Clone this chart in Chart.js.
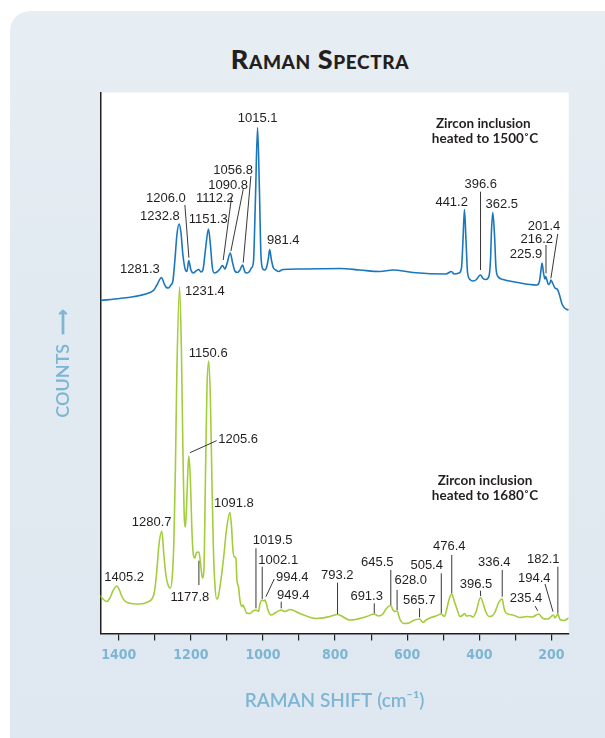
<!DOCTYPE html>
<html>
<head>
<meta charset="utf-8">
<script src="https://cdn.jsdelivr.net/npm/chart.js@4.4.1/dist/chart.umd.min.js"></script>
<style>
  html, body { margin: 0; padding: 0; width: 605px; height: 738px; overflow: hidden; background: #ffffff; }
  #panel {
    position: absolute; left: 10px; top: 11px; width: 640px; height: 760px;
    border-radius: 20px 0 0 0;
    background: linear-gradient(180deg, #e7eef3 0%, #e1eaf1 40%, #dfe8f0 100%);
  }
  #title {
    position: absolute; left: 0; top: 45px; width: 640px; text-align: center;
    font-family: Lato, "Open Sans", sans-serif; font-weight: 900; font-size: 27px; line-height: 27px;
    font-variant: small-caps; color: #231f20; letter-spacing: 0.6px;
  }
  #chart { position: absolute; left: 0; top: 0; }
</style>
</head>
<body>
<div id="panel"></div>
<div id="title">Raman Spectra</div>
<canvas id="chart" width="605" height="738"></canvas>
<script>
// Raman shift (cm-1) and counts, zircon inclusion heated to 1500 °C
const shift1500 = [1451,1397,1341.5,1313.7,1302.6,1294.3,1281.3,1274.9,1267.9,1262.4,1255.4,1249.9,1244.3,1238.8,1232.8,1227.7,1222.1,1215.2,1211.0,1206.0,1199.9,1193.0,1186.1,1177.7,1172.2,1166.6,1159.7,1151.3,1145.8,1140.3,1134.7,1127.8,1119.5,1112.2,1105.6,1100.1,1090.8,1084.8,1077.9,1070.9,1064.0,1056.8,1050.1,1044.6,1037.6,1032.1,1026.5,1021.0,1015.1,1009.9,1005.7,1000.2,994.6,989.1,984.9,981.4,976.6,971.0,964.1,957.2,944.7,897.5,786.5,731.0,675.5,639.4,584.0,492.4,477.1,470.2,456.3,449.4,445.2,441.2,436.9,432.7,425.8,417.5,407.8,400.8,396.6,389.7,381.4,373.1,368.9,366.1,362.5,357.8,353.7,348.1,334.2,300.9,259.3,239.9,232.9,228.8,225.9,221.9,217.7,216.2,208.0,203.8,201.4,195.5,190.0,183.0,177.5,170.5,162.2,152];
const counts1500 = [333,335,338,341,343.5,348.5,356,350.5,346,345.5,348.5,352.5,373.5,398.5,409.5,401.5,378.5,363.5,362,373,363.5,360.5,362.5,364,361.5,363.5,383.5,404.5,388.5,365.5,360.5,361.5,364.5,368,364.5,369.5,380.5,371.5,362.5,361,363.5,368.5,361.5,360.5,362,365.5,371.5,433.5,506,443.5,378.5,364.5,363.5,367.5,375.5,384,373.5,365.5,363.5,362,364,364.5,365,363.5,362,363.5,361,359.5,362,359.5,360.5,365.5,393.5,424,393.5,361.5,354,352.5,354,357.5,358.5,355,354,357.5,373.5,403.5,421,398.5,365.5,357,354,351.5,349,348.5,352.5,363.5,370.5,360.5,354.5,357,349,350.5,353.5,349.5,345.5,344,338.5,329.5,325,323.5];

// Raman shift (cm-1) and counts, zircon inclusion heated to 1680 °C
const shift1680 = [1451,1444.1,1433.0,1424.7,1416.4,1405.2,1398.3,1391.4,1383.1,1372.0,1341.5,1319.3,1308.2,1301.2,1294.3,1288.7,1280.7,1274.9,1269.3,1262.4,1256.8,1251.3,1247.1,1243.0,1238.8,1231.4,1226.3,1222.1,1218.0,1215.2,1212.4,1208.3,1205.6,1201.3,1197.2,1193.0,1188.8,1184.7,1177.8,1173.6,1168.0,1163.9,1159.7,1155.5,1150.6,1145.8,1141.7,1137.5,1133.3,1128.6,1123.6,1116.7,1108.4,1101.4,1091.8,1087.6,1083.4,1079.2,1075.1,1072.3,1068.1,1064.0,1059.8,1055.7,1051.5,1045.9,1036.2,1027.9,1019.5,1012.6,1008.5,1002.1,997.4,994.4,990.4,986.3,976.6,966.9,949.4,939.1,925.3,897.5,851.2,814.3,793.2,758.8,712.4,691.3,679.7,667.2,658.9,645.5,639.4,633.9,628.0,620.0,608.9,595.1,582.6,565.7,556.2,547.9,534.0,520.1,505.4,496.6,489.6,482.7,476.4,470.2,461.9,453.6,445.2,441.1,435.5,425.8,417.5,409.2,396.5,389.7,382.8,373.1,364.8,355.1,348.1,336.4,331.5,325.9,306.5,287.1,267.6,253.8,235.4,223.2,209.4,194.4,190.0,182.1,176.1,165.0,152];
const counts1680 = [38,34.5,32,35.5,42.5,47.5,43.5,37,32.5,30.5,29.5,31.5,34.5,41.5,63.5,88.5,102.5,78.5,58.5,47.5,45.5,58.5,93.5,163.5,263.5,346.5,283.5,183.5,113.5,106.5,123.5,163.5,177.5,153.5,103.5,78.5,75.5,81,81.5,71.5,55.5,63.5,153.5,243.5,272.5,233.5,153.5,83.5,48.5,34.5,37.5,53.5,78.5,103.5,121,108.5,83.5,76.5,75.5,53.5,47,33.5,27,28.5,25.5,20.5,20,22.5,23.5,22,29.5,33.5,32.5,33.5,29.5,23.5,18.5,20.5,23.5,22,24,20,15,17,19,13.5,17,19.5,17.5,19.5,24.5,28,23.5,22,22.5,14,10,10.5,13,14.5,11,13.5,16,17.5,19.5,17,25.5,35.5,39.5,33.5,24.5,17,18.5,20,17.5,18,16.5,21.5,36,30.5,22.5,17,17.5,22.5,29.5,34.5,25.5,20.5,18.5,16,17,16.5,19.5,15,14.5,18.5,15.5,19.5,14,13,15.5];

// Axis ticks (cm-1)
const shiftTicks = [1400,1300,1200,1100,1000,900,800,700,600,500,400,300,200];

// Peak labels
const peakText1500 = ['1015.1','1056.8','1090.8','1112.2','1206.0','1232.8','1151.3','981.4','1281.3','396.6','441.2','362.5','201.4','216.2','225.9'];
const peakText1680 = ['1231.4','1150.6','1205.6','1091.8','1280.7','1405.2','1177.8','1019.5','1002.1','994.4','949.4','793.2','691.3','645.5','628.0','565.7','505.4','476.4','396.5','336.4','235.4','194.4','182.1'];
const spectrumNames = [['Zircon inclusion','heated to 1500˚C'],['Zircon inclusion','heated to 1680˚C']];

// Label placement in (shift, counts) and leader segments [x1, y1, x2, y2]
const labelAt1500 = [[1014.9,515.2],[1082.6,463.5],[1096.5,448.5],[1133.4,435.2],[1269.3,435.2],[1286.0,416.8],[1151.9,414.2],[943.8,393.5],[1341.5,364.2],[396.1,449.5],[476.6,431.2],[337.8,429.5],[220.5,406.8],[240.7,394.5],[270.4,379.2]];
const leader1500 = [null,[1033.5,457.5,1054.8,370.8],[1054.8,444.2,1089.0,382.5],[1087.0,436.8,1110.3,373.5],[1216.6,428.5,1205.5,375.8],null,null,null,null,[396.6,441.8,396.6,363.5],null,null,[182.5,399.5,201.4,355.2],[215,388.5,215,360.2],null];
const labelAt1680 = [[1161.1,341.8],[1151.9,280.2],[1068.7,194.2],[1080.6,130.2],[1309.0,110.8],[1385.0,56.2],[1202.7,36.2],[973.3,92.8],[957.7,72.8],[918.9,56.2],[916.1,38.5],[794.0,58.5],[712.4,36.8],[683.0,71.2],[590.3,52.8],[566.5,33.5],[545.9,68.5],[483.2,86.8],[409.2,49.5],[358.4,71.2],[270.4,35.2],[247.4,55.2],[222.4,74.2]];
const leader1680 = [null,null,[1128.6,192.8,1202.7,180.8],null,null,null,[1177.8,72.8,1177.8,48.5],[1019.5,85.2,1019.5,25.2],[1002.1,66.8,1002.1,34.5],[968.8,54.5,991.8,36.8],[949.4,31.8,949.4,25.2],[793.2,50.8,793.2,19.5],[691.3,30.2,691.3,20.2],[645.5,63.5,645.5,28.5],[628.0,43.5,628.0,23.5],[565.7,25.2,565.7,16.2],[505.4,60.2,505.4,20.2],[476.4,78.5,476.4,40.2],[396.5,42.8,396.5,37.5],[336.4,63.5,336.4,36.8],[245.4,27.5,238.0,22.8],[217.7,49.5,195.5,21.8],[182.1,66.8,182.1,20.2]];
const nameAt = [[[388.9,510.2],[384.2,495.2]],[[384.2,152.8],[384.2,137.5]]];

const toPoints = (xs, ys) => xs.map((x, i) => ({ x: x, y: ys[i] }));

const INK = '#231f20';
const AXIS_BLUE = '#7db5d3';

// White plotting field behind the spectra
const plotField = {
  id: 'plotField',
  beforeDraw(chart) {
    const { ctx, chartArea: a } = chart;
    ctx.save();
    ctx.fillStyle = '#ffffff';
    ctx.fillRect(a.left, a.top - 0.5, a.right - a.left, a.bottom - a.top + 0.5);
    ctx.restore();
  }
};

// Peak labels, leader lines and spectrum captions
const peakNotes = {
  id: 'peakNotes',
  afterDatasetsDraw(chart) {
    const { ctx, scales: { x, y } } = chart;
    const px = v => x.getPixelForValue(v);
    const py = v => y.getPixelForValue(v);
    ctx.save();
    ctx.strokeStyle = INK;
    ctx.lineWidth = 0.9;
    [leader1500, leader1680].forEach(list => list.forEach(s => {
      if (!s) return;
      ctx.beginPath();
      ctx.moveTo(px(s[0]), py(s[1]));
      ctx.lineTo(px(s[2]), py(s[3]));
      ctx.stroke();
    }));
    ctx.fillStyle = INK;
    ctx.font = '13px "Liberation Sans", Arial, sans-serif';
    ctx.textAlign = 'center';
    ctx.textBaseline = 'middle';
    peakText1500.forEach((t, i) => ctx.fillText(t, px(labelAt1500[i][0]), py(labelAt1500[i][1])));
    peakText1680.forEach((t, i) => ctx.fillText(t, px(labelAt1680[i][0]), py(labelAt1680[i][1])));
    ctx.font = 'bold 13.5px Lato, "Open Sans", sans-serif';
    spectrumNames.forEach((lines, k) => lines.forEach((t, j) => {
      ctx.fillText(t, px(nameAt[k][j][0]), py(nameAt[k][j][1]));
    }));
    ctx.restore();
  }
};

new Chart(document.getElementById('chart'), {
  type: 'line',
  data: {
    datasets: [
      {
        label: 'Zircon inclusion heated to 1500°C',
        data: toPoints(shift1500, counts1500),
        borderColor: '#1b77bd',
        borderWidth: 1.6,
        pointRadius: 0,
        cubicInterpolationMode: 'monotone',
        fill: false
      },
      {
        label: 'Zircon inclusion heated to 1680°C',
        data: toPoints(shift1680, counts1680),
        borderColor: '#a4cd3c',
        borderWidth: 1.6,
        pointRadius: 0,
        cubicInterpolationMode: 'monotone',
        fill: false
      }
    ]
  },
  options: {
    responsive: false,
    animation: false,
    devicePixelRatio: 1,
    layout: { padding: { top: 93, right: 36.3, bottom: 0, left: 0 } },
    plugins: { legend: { display: false }, tooltip: { enabled: false }, title: { display: false } },
    scales: {
      x: {
        type: 'linear',
        reverse: true,
        min: 152,
        max: 1451,
        afterBuildTicks: s => { s.ticks = shiftTicks.map(v => ({ value: v })); },
        afterFit: s => { s.height = 104.5; },
        ticks: {
          autoSkip: false,
          maxRotation: 0,
          padding: 6,
          color: AXIS_BLUE,
          font: { family: '"Liberation Sans Narrow", "DejaVu Sans Condensed", sans-serif', weight: 'bold', size: 14 },
          callback: v => (v % 200 === 0 ? String(v) : '')
        },
        grid: { display: true, drawOnChartArea: false, drawTicks: true, tickLength: 7, color: INK, lineWidth: 1.2 },
        border: { display: true, color: INK, width: 1.5 },
        title: {
          display: true,
          text: 'RAMAN SHIFT (cm⁻¹)',
          color: AXIS_BLUE,
          font: { family: 'Lato, "Open Sans", sans-serif', size: 19, weight: '600' },
          padding: { top: 0, bottom: 26 }
        }
      },
      y: {
        type: 'linear',
        min: 0,
        max: 540.5,
        afterFit: s => { s.width = 100.4; },
        ticks: { display: false },
        grid: { display: false },
        border: { display: true, color: INK, width: 1.5 },
        title: {
          display: true,
          text: 'COUNTS  ⟶',
          color: AXIS_BLUE,
          font: { family: 'Lato, "Open Sans", sans-serif', size: 18, weight: '600' },
          padding: { top: 52, bottom: 0 }
        }
      }
    }
  },
  plugins: [plotField, peakNotes]
});
</script>
</body>
</html>
